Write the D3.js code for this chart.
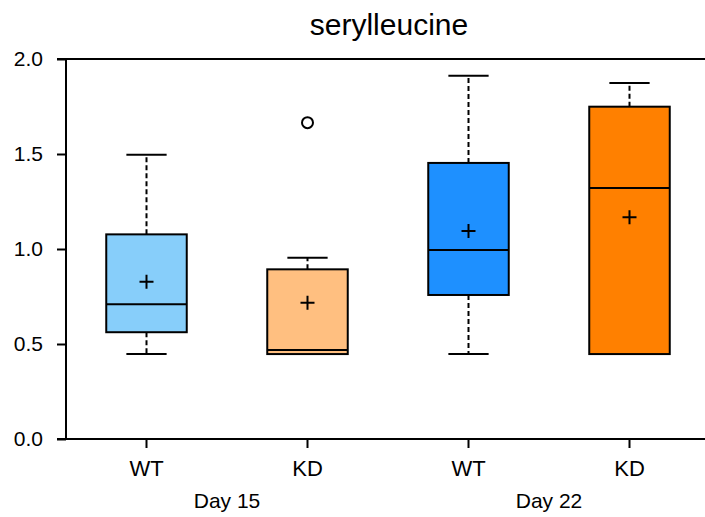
<!DOCTYPE html>
<html>
<head>
<meta charset="utf-8">
<script src="https://cdn.jsdelivr.net/npm/d3@7"></script>
<style>
  html, body { margin: 0; padding: 0; background: #fff; }
  svg { display: block; font-family: "Liberation Sans", Arial, Helvetica, sans-serif; }
</style>
</head>
<body>
<svg id="chart" width="705" height="517"></svg>
<script>
// ---- data ----
const title = "serylleucine";
const groups = ["WT", "KD", "WT", "KD"];
const days = ["Day 15", "Day 22"];
const groupDay = [0, 0, 1, 1];
const whiskerLow = [0.447, 0.447, 0.447, 0.447];
const q1 = [0.562, 0.447, 0.758, 0.447];
const median = [0.709, 0.468, 0.995, 1.321];
const q3 = [1.077, 0.893, 1.453, 1.749];
const whiskerHigh = [1.496, 0.954, 1.912, 1.874];
const means = [0.828, 0.717, 1.095, 1.167];
const outliers = [[], [1.665], [], []];
const fills = ["#87CEFA", "#FFBF80", "#1E90FF", "#FF8000"];
const yTicks = [0.0, 0.5, 1.0, 1.5, 2.0];

// ---- layout ----
const svg = d3.select("#chart");
const mLeft = 66, mRight = 710, mTop = 59, mBottom = 439;
const keys = groups.map((g, i) => i);
const x = d3.scaleBand().domain(keys).range([mLeft, mRight]).padding(0);
const y = d3.scaleLinear().domain([0, 2]).range([mBottom, mTop]);
const bw = x.bandwidth() * 0.5;
const cw = x.bandwidth() * 0.25;
const cx = i => x(i) + x.bandwidth() / 2;

// title
svg.append("text")
  .attr("x", 389).attr("y", 35)
  .attr("text-anchor", "middle")
  .attr("font-size", 30)
  .attr("fill", "#000")
  .text(title);

// y axis
const yAxis = d3.axisLeft(y).tickValues(yTicks).tickFormat(d3.format(".1f")).tickSize(9).tickPadding(14);
const gy = svg.append("g").attr("transform", `translate(${mLeft},0)`).call(yAxis);
gy.select(".domain").remove();
gy.selectAll(".tick line").attr("stroke", "#000").attr("stroke-width", 2);
gy.selectAll(".tick text").attr("font-size", 21).attr("fill", "#000")
  .attr("font-family", "'Liberation Sans', Arial, sans-serif");

// frame lines
svg.append("line").attr("x1", mLeft).attr("x2", mLeft).attr("y1", mTop).attr("y2", mBottom)
  .attr("stroke", "#000").attr("stroke-width", 2);
svg.append("line").attr("x1", mLeft - 9).attr("x2", 705).attr("y1", mTop).attr("y2", mTop)
  .attr("stroke", "#000").attr("stroke-width", 2);

// x axis
const xAxis = d3.axisBottom(x).tickFormat(i => groups[i]).tickSize(9).tickPadding(12);
const gx = svg.append("g").attr("transform", `translate(0,${mBottom})`).call(xAxis);
gx.select(".domain").remove();
gx.selectAll(".tick line").attr("stroke", "#000").attr("stroke-width", 2);
gx.selectAll(".tick text").attr("font-size", 22).attr("fill", "#000")
  .attr("font-family", "'Liberation Sans', Arial, sans-serif");
svg.append("line").attr("x1", mLeft - 9).attr("x2", 705).attr("y1", mBottom).attr("y2", mBottom)
  .attr("stroke", "#000").attr("stroke-width", 2);

// day labels
days.forEach((d, k) => {
  const idx = keys.filter(i => groupDay[i] === k);
  const mid = d3.mean(idx, cx);
  svg.append("text").attr("x", mid).attr("y", 508)
    .attr("text-anchor", "middle").attr("font-size", 21).attr("fill", "#000")
    .text(d);
});

// boxes
const g = svg.append("g");
keys.forEach(i => {
  const c = cx(i);
  g.append("line").attr("x1", c).attr("x2", c).attr("y1", y(q3[i])).attr("y2", y(whiskerHigh[i]))
    .attr("stroke", "#000").attr("stroke-width", 2).attr("stroke-dasharray", "5,3");
  g.append("line").attr("x1", c).attr("x2", c).attr("y1", y(q1[i])).attr("y2", y(whiskerLow[i]))
    .attr("stroke", "#000").attr("stroke-width", 2).attr("stroke-dasharray", "5,3");
  [whiskerHigh[i], whiskerLow[i]].forEach(v => {
    g.append("line").attr("x1", c - cw / 2).attr("x2", c + cw / 2).attr("y1", y(v)).attr("y2", y(v))
      .attr("stroke", "#000").attr("stroke-width", 2);
  });
  g.append("rect").attr("x", c - bw / 2).attr("width", bw)
    .attr("y", y(q3[i])).attr("height", y(q1[i]) - y(q3[i]))
    .attr("fill", fills[i]).attr("stroke", "#000").attr("stroke-width", 2);
  g.append("line").attr("x1", c - bw / 2).attr("x2", c + bw / 2).attr("y1", y(median[i])).attr("y2", y(median[i]))
    .attr("stroke", "#000").attr("stroke-width", 2);
  const my = y(means[i]);
  g.append("path").attr("d", `M${c - 7},${my}H${c + 7}M${c},${my - 7}V${my + 7}`)
    .attr("stroke", "#000").attr("stroke-width", 2).attr("fill", "none");
  outliers[i].forEach(v => {
    g.append("circle").attr("cx", c).attr("cy", y(v)).attr("r", 5.5)
      .attr("fill", "#fff").attr("stroke", "#000").attr("stroke-width", 2);
  });
});
</script>
</body>
</html>
